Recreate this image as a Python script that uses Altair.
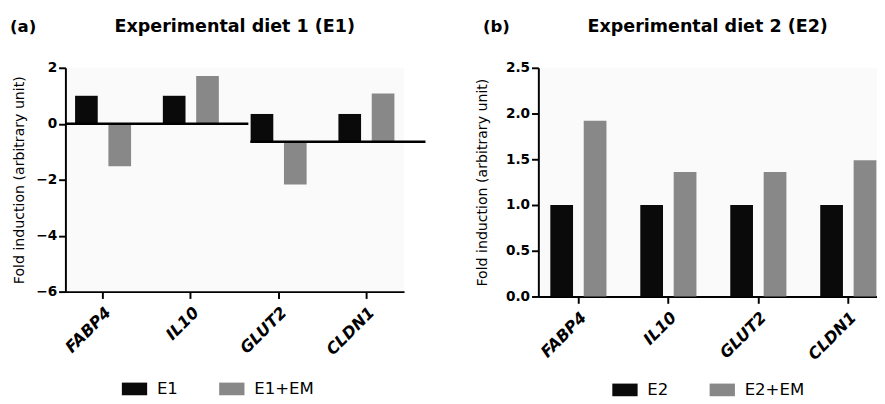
import altair as alt
import pandas as pd

genes = ["FABP4", "IL10", "GLUT2", "CLDN1"]

# Panel (a): Experimental diet 1
a_groups = ["E1", "E1+EM"]
a_e1 = [1.0, 1.0, 0.35, 0.35]
a_em = [-1.52, 1.71, -2.17, 1.08]
a_base = [0.0, 0.0, -0.64, -0.64]

# Panel (b): Experimental diet 2
b_groups = ["E2", "E2+EM"]
b_e2 = [1.0, 1.0, 1.0, 1.0]
b_em = [1.92, 1.36, 1.36, 1.49]
b_base = [0.0, 0.0, 0.0, 0.0]

bar_colors = ["#0a0a0a", "#888888"]
YTITLE = "Fold induction (arbitrary unit)"
FONT = "DejaVu Sans"
RECT = "M-1,-0.5L1,-0.5L1,0.5L-1,0.5Z"
W = 348


def table(groups, v1, v2, base):
    rows = []
    for g, a, b, c in zip(genes, v1, v2, base):
        rows.append({"gene": g, "group": groups[0], "value": a, "base": c})
        rows.append({"gene": g, "group": groups[1], "value": b, "base": c})
    return pd.DataFrame(rows)


def panel(df, groups, letter, title, domain, ticks, fmt, height, xsc, legxy, tpad, zero_rules):
    bars = alt.Chart(df).mark_bar().encode(
        x=alt.X("gene:N", sort=genes, title=None,
                scale=alt.Scale(paddingInner=xsc[0], paddingOuter=xsc[1], align=xsc[2]),
                axis=alt.Axis(labelAngle=-45, labelFontStyle="italic", labelFontSize=16.5,
                              tickSize=7, labelPadding=6)),
        xOffset=alt.XOffset("group:N", sort=groups,
                            scale=alt.Scale(domain=groups, paddingInner=0.32)),
        y=alt.Y("value:Q", title=YTITLE,
                scale=alt.Scale(domain=domain, nice=False, zero=False),
                axis=alt.Axis(values=ticks, format=fmt, tickSize=7, labelPadding=2,
                              titlePadding=tpad)),
        y2="base:Q",
        color=alt.Color("group:N", sort=groups,
                        scale=alt.Scale(domain=groups, range=bar_colors),
                        legend=alt.Legend(title=None, orient="none", direction="horizontal",
                                          legendX=legxy[0], legendY=legxy[1],
                                          symbolType=RECT, symbolSize=676,
                                          symbolStrokeWidth=0, labelFont=FONT,
                                          labelFontSize=17, labelColor="black",
                                          labelOffset=10, columnPadding=42)),
    )
    layers = [bars]
    for val, x0, x1 in zero_rules:
        rd = pd.DataFrame({"value": [val]})
        layers.append(
            alt.Chart(rd).mark_rule(color="black", strokeWidth=2.5).encode(
                y=alt.Y("value:Q", title=YTITLE),
                x=alt.value(x0),
                x2=alt.value(x1),
            )
        )
    lab = alt.Chart(pd.DataFrame({"t": [letter]})).mark_text(
        font=FONT, fontSize=17, fontWeight="bold", align="left", baseline="middle", color="black"
    ).encode(text="t:N", x=alt.value(-57), y=alt.value(-42))
    ttl = alt.Chart(pd.DataFrame({"t": [title]})).mark_text(
        font=FONT, fontSize=18, fontWeight="bold", align="center", baseline="middle", color="black"
    ).encode(text="t:N", x=alt.value(W / 2), y=alt.value(-42))
    layers += [lab, ttl]
    return alt.layer(*layers).properties(width=W, height=height)


df_a = table(a_groups, a_e1, a_em, a_base)
df_b = table(b_groups, b_e2, b_em, b_base)

pa = panel(df_a, a_groups, "(a)", "Experimental diet 1 (E1)", [-6, 2], [-6, -4, -2, 0, 2], "d",
           230, (0.362, 0.11, 0.5), (58, 317), 10,
           [(a_base[0], 0, 188), (a_base[2], 190, 370)])
pb = panel(df_b, b_groups, "(b)", "Experimental diet 2 (E2)", [0, 2.5], [0, 0.5, 1.0, 1.5, 2.0, 2.5],
           ".1f", 235, (0.376, 0.07, 0.95), (76, 318), 16, [])

chart = alt.hconcat(pa, pb, spacing=49).resolve_scale(
    color="independent", xOffset="independent"
).properties(
    padding={"left": 2, "top": 5, "right": 0, "bottom": 0}
).configure_view(stroke=None, fill="#fafafa").configure_axis(
    domainColor="black", domainWidth=2, tickColor="black", tickWidth=2, grid=False,
    labelFont=FONT, labelFontWeight="bold", labelFontSize=14, labelColor="black",
    titleFont=FONT, titleFontWeight="normal", titleFontSize=14.5, titleColor="black"
)

chart.save("out.html", embed_options={"renderer": "svg", "actions": False})
